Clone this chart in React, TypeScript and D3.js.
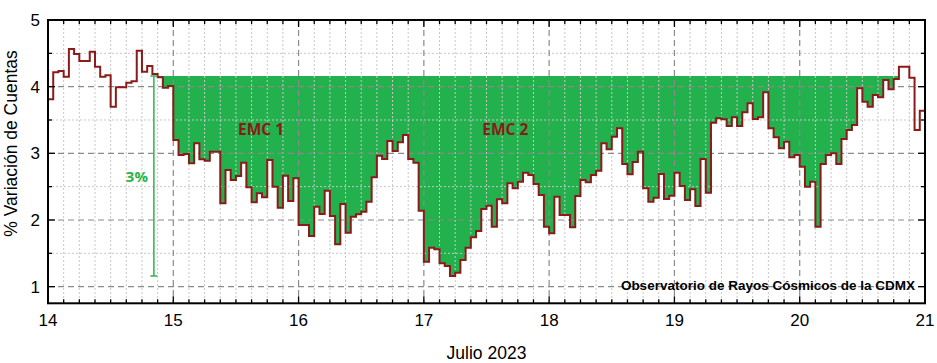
import React, { useEffect, useRef } from 'react';
import * as d3 from 'd3';

// hourly values, July 14 00h .. July 21 00h (% count variation)
const day14 = [3.81, 4.215, 4.235, 4.15, 4.565, 4.49, 4.385, 4.385, 4.525, 4.3, 4.15, 4.17, 3.7, 3.99, 3.99, 4.06, 4.08, 4.54, 4.225, 4.31, 4.19, 4.14, 3.985, 4.01];
const day15 = [3.2, 2.975, 2.99, 2.85, 3.15, 2.91, 2.89, 3.025, 3.025, 2.25, 2.75, 2.6, 2.66, 2.86, 2.49, 2.265, 2.4, 2.34, 2.9, 2.5, 2.185, 2.665, 2.285, 2.625];
const day16 = [1.925, 1.925, 1.76, 2.2, 2.09, 2.44, 2.06, 1.635, 2.24, 1.81, 2.05, 2.085, 2.125, 2.275, 2.64, 2.965, 2.915, 3.185, 3.035, 3.165, 3.275, 2.915, 2.86, 2.14];
const day17 = [1.375, 1.585, 1.56, 1.35, 1.31, 1.16, 1.21, 1.4, 1.585, 1.74, 1.835, 2.165, 2.215, 1.9, 2.31, 2.25, 2.55, 2.475, 2.575, 2.71, 2.675, 2.54, 2.375, 1.9];
const day18 = [1.8, 2.35, 2.075, 2.075, 1.89, 2.36, 2.6, 2.565, 2.675, 2.74, 3.15, 3.06, 3.25, 3.375, 2.84, 2.685, 2.87, 3.025, 2.475, 2.275, 2.335, 2.69, 2.315, 2.365];
const day19 = [2.71, 2.51, 2.3, 2.46, 2.21, 2.915, 2.41, 3.46, 3.525, 3.51, 3.41, 3.54, 3.41, 3.615, 3.75, 3.515, 3.54, 3.915, 3.375, 3.24, 3.075, 3.175, 2.94, 2.975];
const day20 = [2.8, 2.5, 2.575, 1.9, 2.84, 2.975, 3.0, 2.84, 3.215, 3.35, 3.425, 3.975, 3.775, 3.7, 3.875, 3.84, 4.1, 3.96, 4.115, 4.3, 4.3, 4.135, 3.35, 3.64];
const day21 = [3.85];

const xTicks = [14, 15, 16, 17, 18, 19, 20, 21];
const yTicks = [1, 2, 3, 4, 5];

const threshold = 4.16;
const fillStart = 14.85;
const fillEnd = 20.79;
const dropBarX = 14.845;
const dropSize = 3;

const W = 937;
const H = 363;

const App = () => {
  const svgRef = useRef<SVGSVGElement>(null);

  useEffect(() => {
    const values = [...day14, ...day15, ...day16, ...day17, ...day18, ...day19, ...day20, ...day21];
    const data = values.map((v, i) => ({ t: 14 + i / 24, v }));

    const margin = { top: 20, right: 12, bottom: 59.7, left: 48 };
    const x = d3.scaleLinear().domain([14, 21]).range([margin.left, W - margin.right]);
    const y = d3.scaleLinear().domain([0.75, 5]).range([H - margin.bottom, margin.top]);

    const svg = d3.select(svgRef.current);
    svg.selectAll('*').remove();

    const [x0, x1] = x.range();
    const [y0, y1] = [y.range()[1], y.range()[0]];

    // green deficit area below the reference level
    const inside = data.filter(d => d.t > fillStart && d.t < fillEnd);
    const before = data.filter(d => d.t <= fillStart).pop()!;
    const last = inside[inside.length - 1];
    const fillPts = [{ t: fillStart, v: before.v }, ...inside, { t: fillEnd, v: last.v }];

    const area = d3.area<{ t: number; v: number }>()
      .x(d => x(d.t))
      .y0(y(threshold))
      .y1(d => y(Math.min(d.v, threshold)))
      .curve(d3.curveStepAfter);

    svg.append('path')
      .datum(fillPts)
      .attr('fill', '#22b14c')
      .attr('d', area);

    // grid
    const minorX = d3.range(14, 21.001, 0.125).filter(v => Math.abs(v - Math.round(v)) > 1e-6);
    const minorY = [1.5, 2.5, 3.5, 4.5];
    const grid = svg.append('g');
    grid.selectAll('.mx').data(minorX).enter().append('line')
      .attr('x1', d => x(d)).attr('x2', d => x(d)).attr('y1', y0).attr('y2', y1)
      .attr('stroke', '#c8c8c8').attr('stroke-dasharray', '2,2').attr('stroke-width', 1);
    grid.selectAll('.my').data(minorY).enter().append('line')
      .attr('x1', x0).attr('x2', x1).attr('y1', d => y(d)).attr('y2', d => y(d))
      .attr('stroke', '#c8c8c8').attr('stroke-dasharray', '2,2').attr('stroke-width', 1);
    grid.selectAll('.Mx').data(xTicks.slice(1, -1)).enter().append('line')
      .attr('x1', d => x(d)).attr('x2', d => x(d)).attr('y1', y0).attr('y2', y1)
      .attr('stroke', '#8a8a8a').attr('stroke-dasharray', '6,4').attr('stroke-width', 1.2);
    grid.selectAll('.My').data(yTicks.slice(0, -1)).enter().append('line')
      .attr('x1', x0).attr('x2', x1).attr('y1', d => y(d)).attr('y2', d => y(d))
      .attr('stroke', '#8a8a8a').attr('stroke-dasharray', '6,4').attr('stroke-width', 1.2);

    // station text on the lower grid line
    svg.append('text')
      .attr('x', x(20.92)).attr('y', y(1) + 3.5)
      .attr('text-anchor', 'end')
      .style('font-family', '"Liberation Sans", Arial, sans-serif')
      .style('font-weight', 'bold')
      .style('font-size', '13.5px')
      .text('Observatorio de Rayos Cósmicos de la CDMX');

    // step line
    const line = d3.line<{ t: number; v: number }>()
      .x(d => x(d.t))
      .y(d => y(d.v))
      .curve(d3.curveStepAfter);

    svg.append('path')
      .datum(data)
      .attr('fill', 'none')
      .attr('stroke', '#8b1a1a')
      .attr('stroke-width', 2)
      .attr('d', line);

    // 3% drop marker
    const bar = svg.append('g').attr('stroke', '#3cb55a').attr('stroke-width', 1.6);
    bar.append('line')
      .attr('x1', x(dropBarX)).attr('x2', x(dropBarX))
      .attr('y1', y(threshold)).attr('y2', y(threshold - dropSize));
    [threshold, threshold - dropSize].forEach(v => {
      bar.append('line')
        .attr('x1', x(dropBarX) - 3.5).attr('x2', x(dropBarX) + 3.5)
        .attr('y1', y(v)).attr('y2', y(v));
    });
    svg.append('text')
      .attr('x', x(dropBarX) - 17).attr('y', y(threshold - dropSize / 2) + 6)
      .attr('text-anchor', 'middle')
      .attr('fill', '#2db34a')
      .style('font-family', '"Open Sans", sans-serif')
      .style('font-weight', 700)
      .style('font-size', '15px')
      .text('3%');

    // event labels
    [['EMC 1', 15.7], ['EMC 2', 17.65]].forEach(([label, t]) => {
      svg.append('text')
        .attr('x', x(t as number)).attr('y', 135)
        .attr('text-anchor', 'middle')
        .attr('fill', '#8b1a1a')
        .style('font-family', '"Open Sans", sans-serif')
        .style('font-weight', 700)
        .style('font-size', '15.5px')
        .text(label as string);
    });

    // ticks (inward, on all four sides)
    const ticks = svg.append('g').attr('stroke', '#000').attr('stroke-width', 1.3);
    const allX = d3.range(14, 21.001, 0.125);
    allX.forEach(v => {
      const major = Math.abs(v - Math.round(v)) < 1e-6;
      const len = major ? 7 : 4;
      ticks.append('line').attr('x1', x(v)).attr('x2', x(v)).attr('y1', y1).attr('y2', y1 - len);
      ticks.append('line').attr('x1', x(v)).attr('x2', x(v)).attr('y1', y0).attr('y2', y0 + len);
    });
    const allY = d3.range(1, 5.001, 0.5);
    allY.forEach(v => {
      const major = Math.abs(v - Math.round(v)) < 1e-6;
      const len = major ? 7 : 4;
      ticks.append('line').attr('x1', x0).attr('x2', x0 + len).attr('y1', y(v)).attr('y2', y(v));
      ticks.append('line').attr('x1', x1).attr('x2', x1 - len).attr('y1', y(v)).attr('y2', y(v));
    });

    // frame
    svg.append('rect')
      .attr('x', x0).attr('y', y0)
      .attr('width', x1 - x0).attr('height', y1 - y0)
      .attr('fill', 'none').attr('stroke', '#000').attr('stroke-width', 2);

    const font = '"Liberation Sans", Arial, sans-serif';
    svg.selectAll('.xl').data(xTicks).enter().append('text')
      .attr('x', d => x(d)).attr('y', y1 + 23)
      .attr('text-anchor', 'middle')
      .style('font-family', font).style('font-size', '17px')
      .text(d => d);
    svg.selectAll('.yl').data(yTicks).enter().append('text')
      .attr('x', x0 - 8).attr('y', d => y(d) + 6)
      .attr('text-anchor', 'end')
      .style('font-family', font).style('font-size', '17px')
      .text(d => d);

    svg.append('text')
      .attr('x', (x0 + x1) / 2).attr('y', 359)
      .attr('text-anchor', 'middle')
      .style('font-family', font).style('font-size', '17.5px')
      .text('Julio 2023');

    svg.append('text')
      .attr('transform', 'translate(16.5,143.5) rotate(-90)')
      .attr('text-anchor', 'middle')
      .style('font-family', font).style('font-size', '17.5px')
      .text('% Variación de Cuentas');
  }, []);

  return (
    <svg
      ref={svgRef}
      width={W}
      height={H}
      style={{ position: 'absolute', left: 0, top: 0, background: '#fff' }}
    />
  );
};

export default App;
